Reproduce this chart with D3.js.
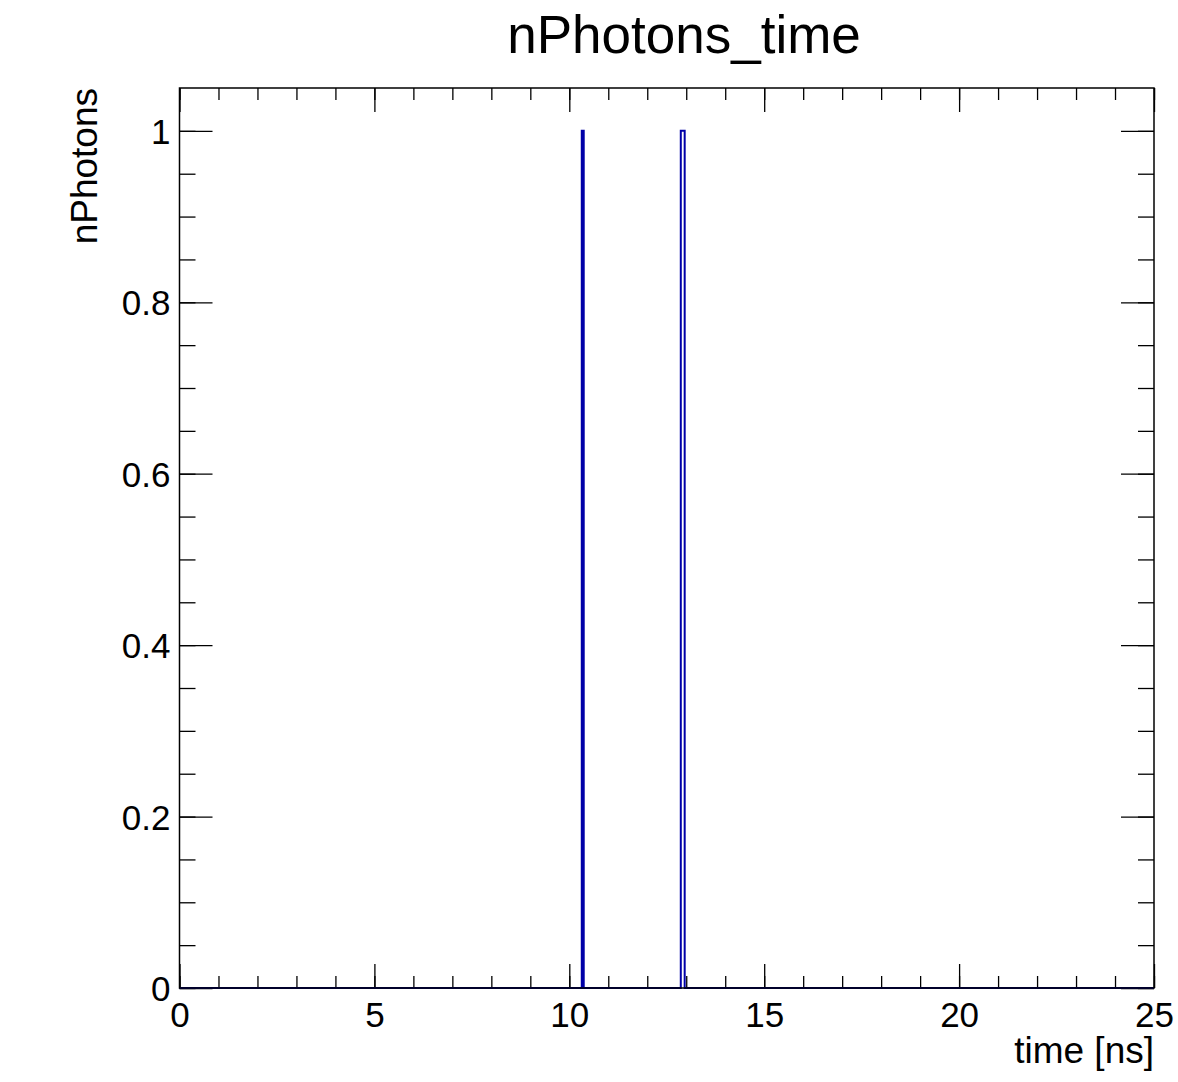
<!DOCTYPE html>
<html>
<head>
<meta charset="utf-8">
<script src="https://cdn.jsdelivr.net/npm/d3@7"></script>
<style>
body { margin: 0; background: #fff; }
svg text { font-family: "Liberation Sans", Arial, Helvetica, sans-serif; fill: #000; }
.axis path { display: none; }
.axis line { stroke: #000; stroke-width: 1.3; }
</style>
</head>
<body>
<svg id="chart" width="1178" height="1082"></svg>
<script>
/* histogram content: non-empty bins only (low edge, high edge, entries) */
var BIN_LOW = [10.32, 12.86, 12.91];
var BIN_HIGH = [10.37, 12.91, 12.96];
var BIN_COUNT = [1, 1, 1];

var X_TICKS = [0, 5, 10, 15, 20, 25];
var Y_TICKS = [0, 0.2, 0.4, 0.6, 0.8, 1];
var X_MINOR = d3.range(0, 26, 1);
var Y_MINOR = d3.range(0, 21).map(function (i) { return i * 0.05; });

var TITLE = "nPhotons_time";
var X_TITLE = "time [ns]";
var Y_TITLE = "nPhotons";

var svg = d3.select("#chart");
var margin = {top: 88, right: 24, bottom: 94, left: 179.5};
var width = 1178 - margin.left - margin.right;
var height = 1082 - margin.top - margin.bottom;

var x = d3.scaleLinear().domain([0, 25]).range([0, width]);
var y = d3.scaleLinear().domain([0, 1.05]).range([height, 0]);

var g = svg.append("g").attr("transform", "translate(" + margin.left + "," + margin.top + ")");

/* minor ticks (inside the frame, all four sides) */
g.append("g").attr("class", "axis")
    .attr("transform", "translate(0," + height + ")")
    .call(d3.axisBottom(x).tickValues(X_MINOR).tickSize(-12).tickFormat(""));
g.append("g").attr("class", "axis")
    .call(d3.axisTop(x).tickValues(X_MINOR).tickSize(-12).tickFormat(""));
g.append("g").attr("class", "axis")
    .call(d3.axisLeft(y).tickValues(Y_MINOR).tickSize(-16).tickFormat(""));
g.append("g").attr("class", "axis")
    .attr("transform", "translate(" + width + ",0)")
    .call(d3.axisRight(y).tickValues(Y_MINOR).tickSize(-16).tickFormat(""));

/* major ticks */
var xAxis = g.append("g").attr("class", "axis")
    .attr("transform", "translate(0," + height + ")")
    .call(d3.axisBottom(x).tickValues(X_TICKS).tickSize(-24).tickPadding(0).tickFormat(d3.format("d")));
xAxis.selectAll("text")
    .attr("y", 39)
    .attr("dy", 0)
    .style("font-size", "35px");

g.append("g").attr("class", "axis")
    .call(d3.axisTop(x).tickValues(X_TICKS).tickSize(-24).tickFormat(""));

var yAxis = g.append("g").attr("class", "axis")
    .call(d3.axisLeft(y).tickValues(Y_TICKS).tickSize(-33).tickFormat(function (d) { return d === 0 || d === 1 ? d3.format("d")(d) : d3.format(".1f")(d); }));
yAxis.selectAll("text")
    .attr("x", -9)
    .attr("dy", "0.36em")
    .style("font-size", "35px");

g.append("g").attr("class", "axis")
    .attr("transform", "translate(" + width + ",0)")
    .call(d3.axisRight(y).tickValues(Y_TICKS).tickSize(-33).tickFormat(""));

/* histogram outline as a step line */
var pts = [{t: 0, n: 0}];
BIN_LOW.forEach(function (lo, i) {
    pts.push({t: lo, n: BIN_COUNT[i]});
    if (i === BIN_LOW.length - 1 || BIN_LOW[i + 1] !== BIN_HIGH[i]) {
        pts.push({t: BIN_HIGH[i], n: 0});
    }
});
pts.push({t: 25, n: 0});

var step = d3.line()
    .curve(d3.curveStepAfter)
    .x(function (d) { return x(d.t); })
    .y(function (d) { return y(d.n); });

g.append("path")
    .attr("d", step(pts))
    .attr("fill", "none")
    .attr("stroke", "#0000a8")
    .attr("stroke-width", 2);

/* frame */
g.append("rect")
    .attr("width", width)
    .attr("height", height)
    .attr("fill", "none")
    .attr("stroke", "#000")
    .attr("stroke-width", 1.5);

/* titles */
svg.append("text")
    .attr("x", 684)
    .attr("y", 53)
    .attr("text-anchor", "middle")
    .style("font-size", "53px")
    .text(TITLE);

svg.append("text")
    .attr("x", margin.left + width)
    .attr("y", 1063)
    .attr("text-anchor", "end")
    .style("font-size", "37px")
    .text(X_TITLE);

svg.append("text")
    .attr("transform", "translate(97," + margin.top + ") rotate(-90)")
    .attr("text-anchor", "end")
    .style("font-size", "37px")
    .text(Y_TITLE);
</script>
</body>
</html>
